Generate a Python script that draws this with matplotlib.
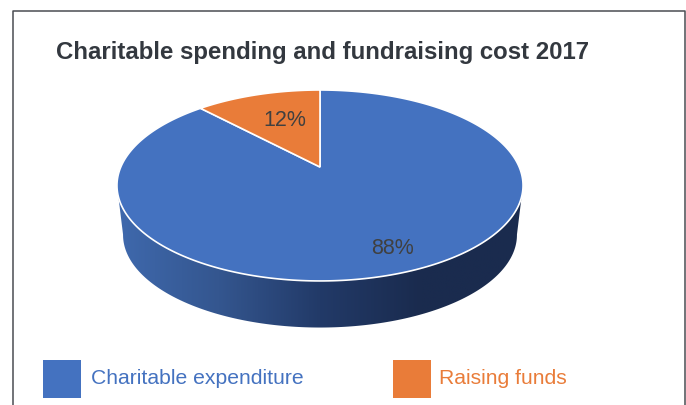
import matplotlib
matplotlib.use('Agg')
import matplotlib.pyplot as plt
import numpy as np
from matplotlib.colors import LinearSegmentedColormap
from matplotlib.patches import Polygon, Rectangle

plt.rcParams['font.family'] = ['Liberation Sans', 'DejaVu Sans']

title = 'Charitable spending and fundraising cost 2017'
categories = ['Charitable expenditure', 'Raising funds']
shares = [88, 12]
colors = ['#4472c0', '#e97c39']
label_pos = [(392.5, 248), (285, 120)]

# Tilted disc: apex position, widths and perspective strength
cx, cy = 320, 167
disc_a, disc_b, tilt = 199.2, 91.9, 0.1935
wall_scale = 0.97
wall_cy = 217


def project(theta, scale=1.0, y0=cy):
    # theta runs clockwise from the top of the disc
    u = np.sin(theta)
    v = np.cos(theta)
    w = 1 + tilt * v
    return np.column_stack([cx + scale * disc_a * u / w, y0 - scale * disc_b * v / w])


fig = plt.figure(figsize=(6.86, 4.05), dpi=100)
ax = fig.add_axes([0, 0, 1, 1])
ax.axis('off')

# Outer frame, open at the bottom
ax.plot([12.5, 12.5, 685, 685], [405, 10.5, 10.5, 405], color='#4a4d52', lw=1.1, zorder=1)

ax.text(56, 52.5, title, fontsize=17.3, fontweight='bold', color='#33383f', va='center', ha='left')

# Side wall with a left-to-right shading
side = np.arctan2(-1, -tilt) % (2 * np.pi)
front = np.linspace(np.pi - (side - np.pi), side, 200)
wall_poly = np.vstack([project(front, wall_scale, wall_cy), project(front[::-1])])
wall_cmap = LinearSegmentedColormap.from_list(
    'wall', ['#3f69ad', '#34568f', '#223a68', '#1a2b4e', '#1a2b4e'])
wall_img = ax.imshow(np.linspace(0, 1, 256).reshape(1, -1), cmap=wall_cmap,
                     extent=[117, 523, 340, 180], aspect='auto', zorder=2)
wall_patch = Polygon(wall_poly, closed=True, transform=ax.transData, fc='none', ec='none')
ax.add_patch(wall_patch)
wall_img.set_clip_path(wall_patch)

# Slices run clockwise, the large one starting at the top
start = 0.0
total = sum(shares)
for share, color, pos in zip(shares, colors, label_pos):
    end = start + 2 * np.pi * share / total
    arc = project(np.linspace(start, end, 300))
    pts = np.vstack([[cx, cy], arc])
    ax.add_patch(Polygon(pts, closed=True, fc=color, ec='white', lw=1.2, zorder=3))
    ax.text(pos[0], pos[1], f'{share}%', fontsize=15.5, color='#404040',
            ha='center', va='center', zorder=4)
    start = end

# Legend swatches and coloured labels
legend_x = [43, 393]
legend_text_x = [91, 439]
for name, color, x, tx in zip(categories, colors, legend_x, legend_text_x):
    ax.add_patch(Rectangle((x, 360), 38, 38, fc=color, ec='none', zorder=2))
    ax.text(tx, 378.5, name, fontsize=15.2, color=color, va='center', ha='left')

ax.set_xlim(0, 686)
ax.set_ylim(405, 0)

fig.savefig('out.png', dpi=100)
plt.close(fig)
